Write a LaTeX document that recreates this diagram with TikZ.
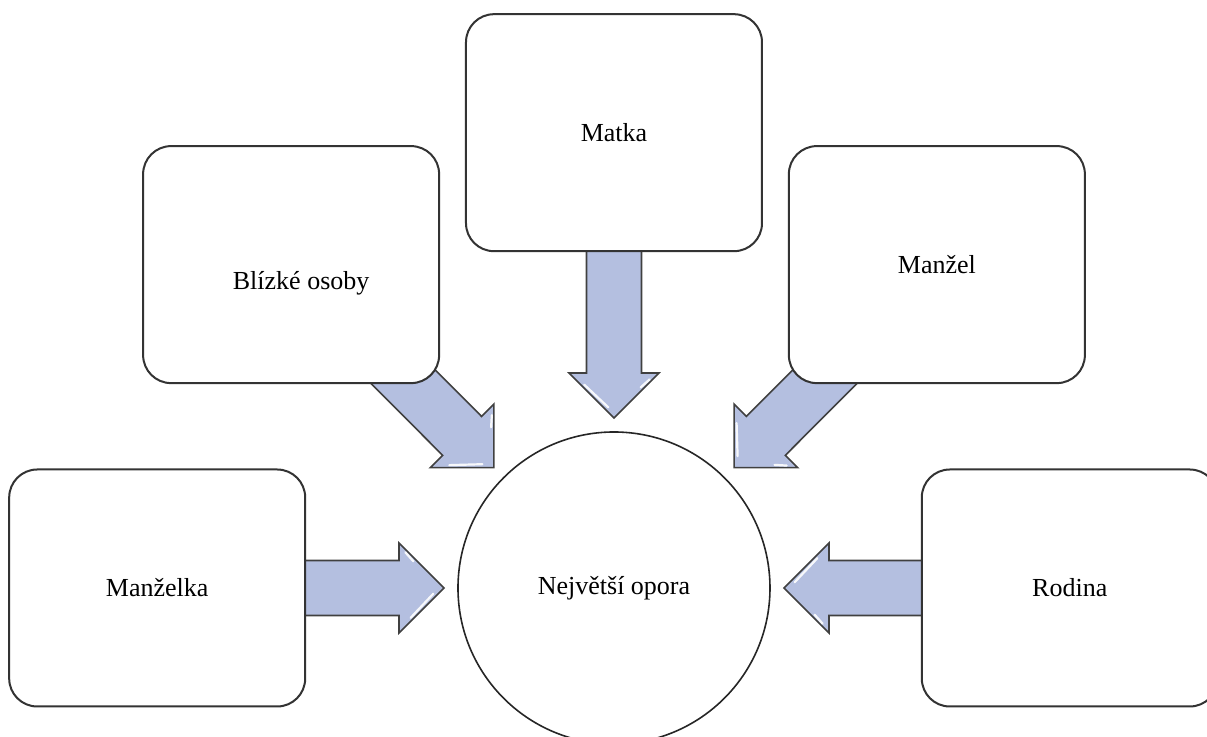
\documentclass[tikz,border=0pt]{standalone}
\usepackage{fontspec}
\setmainfont{Liberation Serif}
\usetikzlibrary{positioning}
\usetikzlibrary{calc}
\usetikzlibrary{backgrounds}

\definecolor{arrowblue}{RGB}{180,191,224}

% block arrow from a box towards the circle
\newcommand{\bigarrow}[2]{%
  \coordinate (tip#1) at ($(#2.center)!85pt!(#1.center)$);
  \coordinate (base#1) at ($(tip#1)!22.5pt!(#1.center)$);
  \coordinate (barbL#1) at ($(base#1)!22.5pt!90:(tip#1)$);
  \coordinate (barbR#1) at ($(base#1)!22.5pt!-90:(tip#1)$);
  \coordinate (hc#1) at ($(base#1)!0.33!(tip#1)$);
  \draw[blockarrow] ($(#1.center)!13.75pt!90:(tip#1)$) -- ($(base#1)!13.75pt!90:(tip#1)$) -- (barbL#1) -- (tip#1) -- (barbR#1) -- ($(base#1)!13.75pt!-90:(tip#1)$) -- ($(#1.center)!13.75pt!-90:(tip#1)$) -- cycle;
  \coordinate (sa#1) at ($(barbR#1)!0.25!(tip#1)$);
  \coordinate (sb#1) at ($(barbR#1)!0.85!(tip#1)$);
  \coordinate (sc#1) at ($(barbL#1)!0.12!(tip#1)$);
  \coordinate (sd#1) at ($(barbL#1)!0.32!(tip#1)$);
  \draw[shine] ($(sa#1)!2pt!(hc#1)$) -- ($(sb#1)!2pt!(hc#1)$);
  \draw[shine] ($(sc#1)!2pt!(hc#1)$) -- ($(sd#1)!2pt!(hc#1)$);
}

\begin{document}
\begin{tikzpicture}[sqbox/.style={rectangle, rounded corners=14pt, draw=black!80, line width=1pt, fill=white, minimum width=148pt, minimum height=118.5pt}, circnode/.style={circle, draw=black!85, line width=0.8pt, fill=white, minimum size=156pt}, blockarrow/.style={draw=black!75, line width=0.8pt, fill=arrowblue, line join=miter}, shine/.style={draw=white, line width=1.1pt, line cap=round, opacity=0.9}, font=\fontsize{13}{15}\selectfont, align = center]
	\useasboundingbox (-307pt,-74.5pt) rectangle (296.5pt,294pt);
	\node[circnode] (opora) at (0,0) {Největší opora};
	\node[sqbox] (matka) [above=89.5pt of opora] {Matka};
	\node[sqbox] (blizke) [above left=46.5pt and 31.5pt of opora, label={[xshift=5pt, yshift=-9.5pt]center:Blízké osoby}] {};
	\node[sqbox] (manzel) [above right=46.5pt and 31.5pt of opora] {Manžel};
	\node[sqbox] (manzelka) [left=75.5pt of opora] {Manželka};
	\node[sqbox] (rodina) [right=75pt of opora] {Rodina};
	\begin{scope}[on background layer]
		\bigarrow{matka}{opora}
		\bigarrow{blizke}{opora}
		\bigarrow{manzel}{opora}
		\bigarrow{manzelka}{opora}
		\bigarrow{rodina}{opora}
	\end{scope}
\end{tikzpicture}
\end{document}
